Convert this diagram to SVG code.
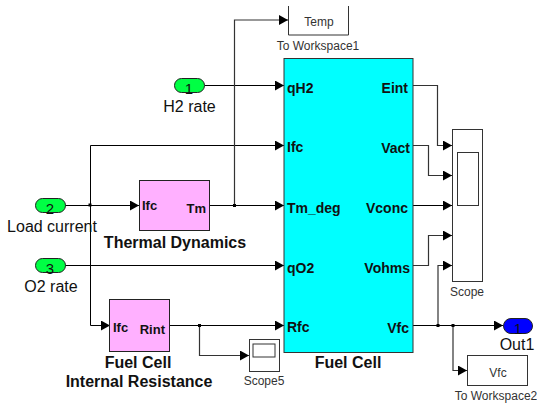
<svg xmlns="http://www.w3.org/2000/svg" width="537" height="404" viewBox="0 0 537 404">
<defs>
<marker id="a" markerUnits="userSpaceOnUse" markerWidth="10" markerHeight="10" refX="9" refY="5" orient="auto"><path d="M0 0L9 5L0 10Z" fill="#000"/></marker>
</defs>
<style>
text{font-family:"Liberation Sans",Arial,sans-serif;fill:#111}
.b{font-weight:bold;font-size:14px}
.t{font-weight:bold;font-size:16px}
.p{font-weight:bold;font-size:13px}
.l{font-size:16px}
.s{font-size:12px;fill:#333}
.n{font-size:15px;text-anchor:middle}
.c{fill:none;stroke:#000;stroke-width:1}
.c2{fill:none;stroke:#333;stroke-width:1.2}
.box{fill:#fff;stroke:#333;stroke-width:1}
.pink{fill:#ffb0ff;stroke:#222;stroke-width:1}
.m{text-anchor:middle}
.e{text-anchor:end}
</style>
<rect width="537" height="404" fill="#fff"/>
<g id="connectors">
<path class="c" d="M204.500 85.500H284" marker-end="url(#a)"/>
<path class="c" d="M65 205.500H139" marker-end="url(#a)"/>
<path class="c" d="M90.500 205.500V145.500H284" marker-end="url(#a)"/>
<path class="c" d="M90.500 205.500V325.500H110" marker-end="url(#a)"/>
<path class="c" d="M210 205.500H284" marker-end="url(#a)"/>
<path class="c2" d="M234.500 205.500V20H288" marker-end="url(#a)"/>
<path class="c" d="M65 265.500H284" marker-end="url(#a)"/>
<path class="c" d="M169 325.500H284" marker-end="url(#a)"/>
<path class="c2" d="M199.500 325.500V355.500H249" marker-end="url(#a)"/>
<path class="c2" d="M413 85.500H437.500V145.500H452" marker-end="url(#a)"/>
<path class="c2" d="M413 145.500H428.500V175.500H452" marker-end="url(#a)"/>
<path class="c" d="M413 205.500H452" marker-end="url(#a)"/>
<path class="c2" d="M413 265.500H428.500V235.500H452" marker-end="url(#a)"/>
<path class="c2" d="M438 325.500V265.500H452" marker-end="url(#a)"/>
<path class="c" d="M413 325.500H503" marker-end="url(#a)"/>
<path class="c2" d="M453 325.500V370.500H467" marker-end="url(#a)"/>
<g fill="#000"><rect x="88.500" y="203.500" width="3" height="3"/><rect x="233" y="204" width="3" height="3"/><rect x="198" y="324" width="3" height="3"/><rect x="436.500" y="324" width="3" height="3"/><rect x="451.500" y="324" width="3" height="3"/></g>
</g>
<g id="in1"><rect x="174.500" y="78.500" width="30" height="14" rx="7" fill="#0f4" stroke="#222"/><text class="n" x="189" y="94">1</text><text class="l m" x="189.500" y="112">H2 rate</text></g>
<g id="in2"><rect x="35.500" y="198.500" width="30" height="14" rx="7" fill="#0f4" stroke="#222"/><text class="n" x="50" y="214">2</text><text class="l m" x="52" y="232">Load current</text></g>
<g id="in3"><rect x="35.500" y="258.500" width="30" height="14" rx="7" fill="#0f4" stroke="#222"/><text class="n" x="50" y="274">3</text><text class="l m" x="51" y="292">O2 rate</text></g>
<g id="thermal"><rect class="pink" x="139.500" y="180.500" width="70" height="50"/><text class="p" x="142" y="210">Ifc</text><text class="p e" x="206" y="213">Tm</text><text class="t m" x="175" y="248">Thermal Dynamics</text></g>
<g id="rint"><rect class="pink" x="109.500" y="299.500" width="60" height="52"/><text class="p" x="113" y="332">Ifc</text><text class="p e" x="165" y="334">Rint</text><text class="t m" x="138" y="368">Fuel Cell</text><text class="t m" x="139" y="387">Internal Resistance</text></g>
<g id="fuelcell"><rect x="284" y="58.500" width="129" height="294" fill="#0ff" stroke="#333"/>
<text class="b" x="287" y="93">qH2</text><text class="b" x="287" y="152">Ifc</text><text class="b" x="287" y="213">Tm_deg</text><text class="b" x="287" y="273">qO2</text><text class="b" x="287" y="332">Rfc</text>
<text class="b e" x="408" y="93">Eint</text><text class="b e" x="410" y="153">Vact</text><text class="b e" x="408" y="213">Vconc</text><text class="b e" x="410" y="273">Vohms</text><text class="b e" x="409" y="333">Vfc</text>
<text class="t m" x="348" y="368">Fuel Cell</text></g>
<g id="temp"><path class="box" d="M288.500 6V35H348.500V6"/><text class="s m" x="319" y="26">Temp</text><text class="s m" x="318" y="50">To Workspace1</text></g>
<g id="scope"><rect class="box" x="452.500" y="129.500" width="30" height="152"/><rect class="box" x="457.500" y="152.500" width="21" height="53"/><text class="s m" x="467" y="296">Scope</text></g>
<g id="scope5"><rect class="box" x="249.500" y="339.500" width="30" height="32"/><rect class="box" x="253" y="344" width="22" height="13"/><text class="s m" x="264" y="385">Scope5</text></g>
<g id="out1"><rect x="503.500" y="318.500" width="29" height="15" rx="7.500" fill="#00f" stroke="#222"/><text class="n" x="518" y="334">1</text><text class="l m" x="517" y="350">Out1</text></g>
<g id="vfc"><rect class="box" x="467.500" y="355.500" width="60" height="30"/><text class="s m" x="498" y="377">Vfc</text><text class="s m" x="496" y="400">To Workspace2</text></g>
</svg>
